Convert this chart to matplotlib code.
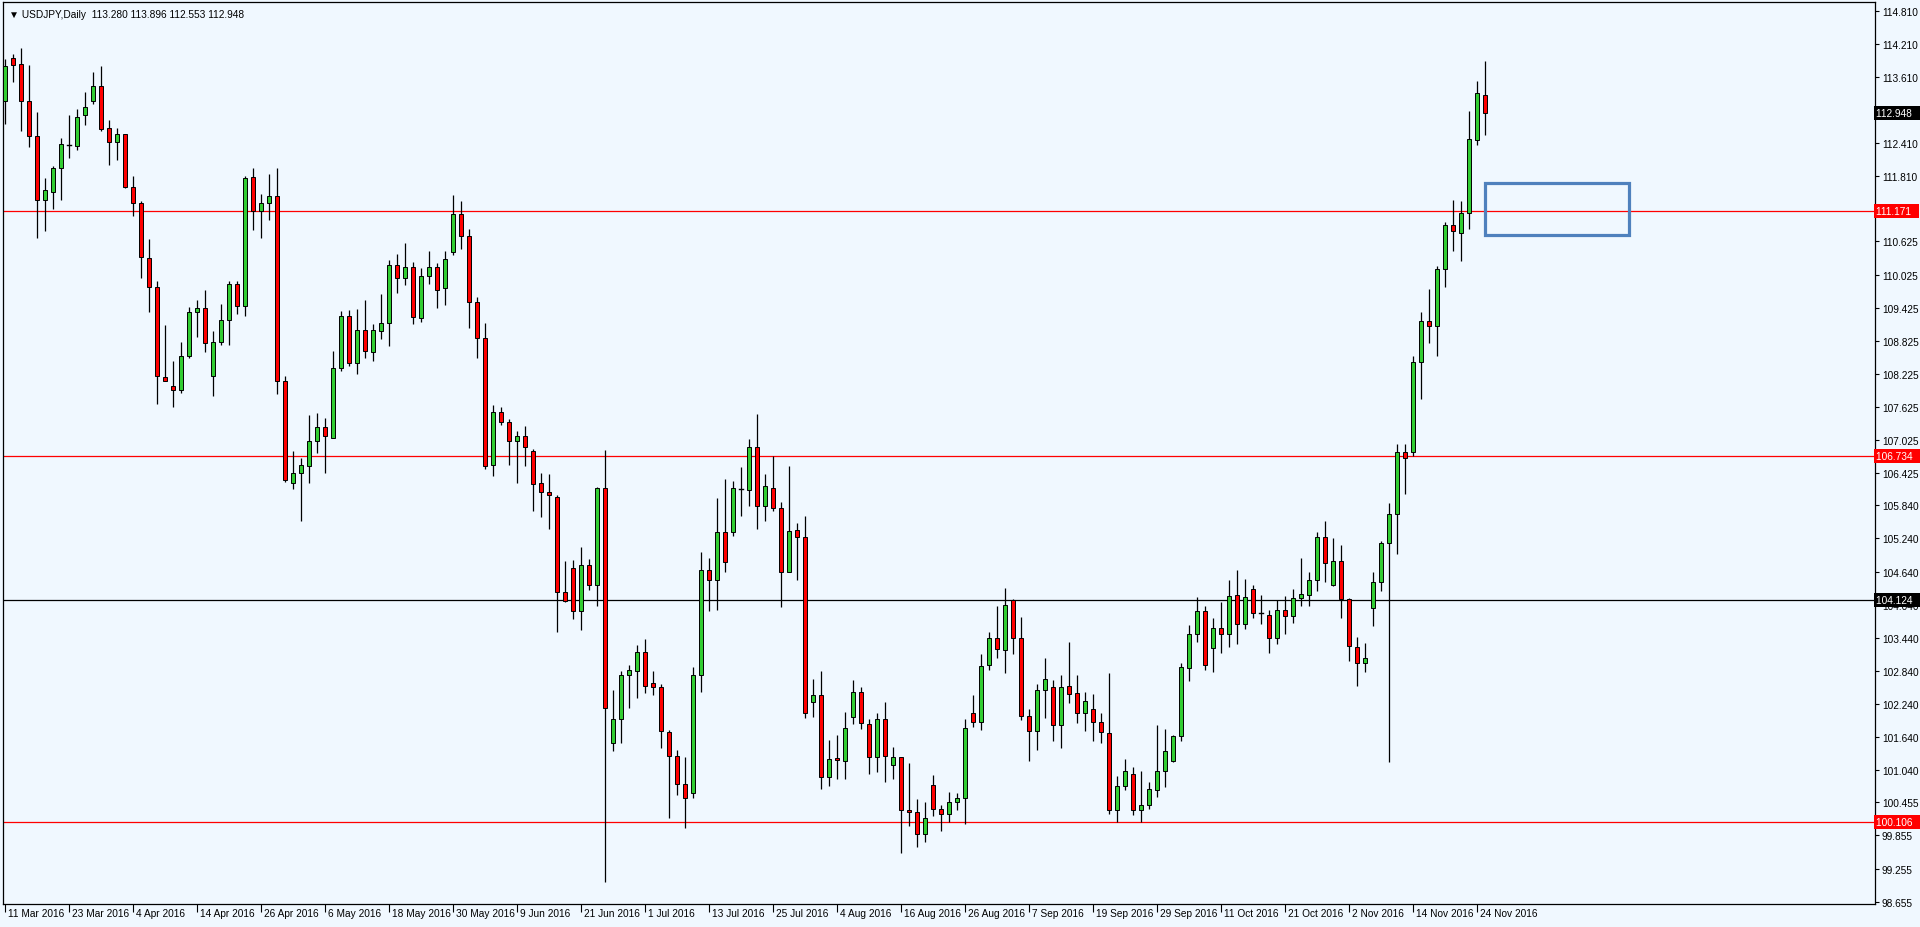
import numpy as np
import matplotlib.pyplot as plt
from matplotlib.patches import Rectangle
import matplotlib.transforms as mtransforms

plt.rcParams['font.family'] = ['Liberation Sans', 'DejaVu Sans']

# USDJPY daily bars, 11 Mar 2016 .. 25 Nov 2016
opens = [113.18, 113.95, 113.84, 113.17, 112.54, 111.38, 111.53, 111.95, 112.37, 112.36,
         112.91, 113.18, 113.44, 112.68, 112.42, 112.57, 111.61, 111.33, 110.33, 109.79,
         108.17, 108.00, 107.94, 108.54, 109.34, 109.41, 108.19, 108.81, 109.20, 109.85,
         109.45, 111.80, 111.18, 111.32, 111.44, 108.09, 106.24, 106.42, 106.56, 107.00,
         107.26, 107.07, 108.33, 109.28, 108.42, 109.02, 108.62, 109.01, 109.15, 110.20,
         109.96, 110.16, 109.23, 109.99, 110.17, 109.78, 110.43, 111.12, 110.72, 109.53,
         108.87, 106.58, 107.54, 107.35, 107.00, 107.09, 106.82, 106.24, 106.09, 106.00,
         104.26, 104.70, 103.93, 104.76, 104.40, 106.15, 101.53, 101.97, 102.76, 102.83,
         103.19, 102.62, 102.54, 101.73, 101.30, 100.78, 100.62, 102.77, 104.67, 104.48,
         105.35, 105.35, 106.13, 106.12, 106.89, 105.82, 106.15, 105.80, 104.63, 105.40,
         105.26, 102.27, 102.40, 100.91, 101.26, 101.20, 102.00, 102.45, 101.88, 101.27,
         101.96, 101.13, 101.27, 100.32, 100.28, 99.88, 100.77, 100.34, 100.25, 100.46,
         100.53, 102.08, 101.92, 102.95, 103.43, 103.22, 104.13, 103.43, 102.02, 101.74,
         102.50, 102.54, 101.86, 102.56, 102.43, 102.08, 102.15, 101.92, 101.71, 100.31,
         100.75, 100.97, 100.32, 100.41, 100.67, 101.02, 101.21, 101.65, 102.89, 103.50,
         103.93, 103.25, 103.61, 103.50, 104.21, 103.68, 104.33, 103.89, 103.85, 103.44,
         103.95, 103.83, 104.16, 104.22, 104.48, 105.27, 104.40, 104.83, 104.14, 103.27,
         102.98, 103.97, 104.45, 105.15, 105.68, 106.81, 106.81, 108.43, 109.18, 109.09,
         110.12, 110.93, 110.78, 111.14, 112.47, 113.280]
highs = [113.93, 114.02, 114.14, 113.82, 112.98, 111.77, 112.00, 112.50, 112.92, 113.03,
         113.33, 113.70, 113.81, 112.82, 112.68, 112.57, 111.82, 111.35, 110.66, 109.91,
         109.11, 108.46, 108.81, 109.43, 109.57, 109.75, 109.00, 109.49, 109.90, 109.90,
         111.82, 111.95, 111.49, 111.85, 111.95, 108.19, 106.83, 106.69, 107.47, 107.51,
         107.42, 108.63, 109.37, 109.38, 109.40, 109.57, 109.12, 109.67, 110.28, 110.40,
         110.60, 110.25, 110.14, 110.46, 110.23, 110.46, 111.47, 111.36, 110.85, 109.61,
         109.15, 107.66, 107.62, 107.41, 107.18, 107.27, 106.86, 106.43, 106.41, 106.02,
         104.83, 104.84, 105.08, 104.86, 106.17, 106.85, 102.50, 102.84, 102.95, 103.31,
         103.41, 102.83, 102.60, 101.77, 101.41, 101.27, 102.90, 105.00, 104.88, 105.97,
         106.32, 106.29, 106.53, 107.04, 107.50, 106.41, 106.74, 105.90, 106.56, 105.52,
         105.64, 102.69, 102.84, 101.59, 101.68, 102.09, 102.68, 102.54, 101.97, 102.07,
         102.28, 101.45, 101.28, 101.17, 100.52, 100.46, 100.95, 100.41, 100.64, 100.63,
         101.96, 102.40, 103.15, 103.55, 104.01, 104.34, 104.15, 103.81, 102.15, 102.60,
         103.07, 102.68, 102.76, 103.37, 102.77, 102.46, 102.42, 102.08, 102.80, 100.94,
         101.25, 101.09, 101.02, 100.83, 101.86, 101.79, 101.68, 102.98, 103.67, 104.17,
         104.02, 103.80, 104.09, 104.49, 104.66, 104.50, 104.39, 104.22, 103.95, 104.12,
         104.20, 104.33, 104.89, 104.64, 105.35, 105.55, 105.25, 105.12, 104.16, 103.45,
         103.35, 104.64, 105.20, 105.89, 106.95, 106.95, 108.55, 109.34, 109.77, 110.18,
         110.97, 111.38, 111.35, 112.99, 113.53, 113.896]
lows = [112.75, 113.51, 112.63, 112.33, 110.68, 110.82, 111.21, 111.38, 112.13, 112.29,
        112.74, 113.12, 112.62, 112.01, 112.11, 111.59, 111.09, 109.96, 109.34, 107.67,
        108.09, 107.63, 107.88, 108.51, 108.90, 108.62, 107.83, 108.74, 108.75, 109.31,
        109.27, 110.84, 110.68, 111.02, 107.86, 106.27, 106.14, 105.55, 106.25, 106.79,
        106.43, 107.06, 108.28, 108.37, 108.22, 108.52, 108.46, 108.86, 108.72, 109.69,
        109.84, 109.12, 109.17, 109.85, 109.42, 109.47, 110.37, 110.49, 109.05, 108.51,
        106.49, 106.37, 107.30, 106.57, 106.25, 106.55, 105.74, 105.62, 105.42, 103.54,
        104.09, 103.78, 103.58, 104.31, 104.01, 99.01, 101.39, 101.54, 102.17, 102.35,
        102.44, 102.40, 101.44, 100.18, 100.59, 99.99, 100.53, 102.45, 103.92, 103.95,
        104.64, 105.28, 105.65, 105.83, 105.41, 105.56, 105.74, 103.99, 104.63, 104.48,
        101.98, 102.01, 100.69, 100.75, 100.88, 100.87, 101.88, 101.79, 100.97, 101.00,
        100.83, 100.87, 99.54, 100.03, 99.64, 99.73, 100.21, 99.94, 100.09, 100.31,
        100.06, 101.83, 101.76, 102.86, 103.07, 102.80, 103.15, 101.94, 101.21, 101.41,
        101.98, 101.56, 101.44, 102.25, 101.89, 101.74, 101.57, 101.53, 100.25, 100.09,
        100.67, 100.23, 100.09, 100.34, 100.56, 100.73, 101.18, 101.57, 102.66, 103.36,
        102.86, 102.81, 103.16, 103.28, 103.33, 103.60, 103.79, 103.69, 103.16, 103.33,
        103.50, 103.70, 104.02, 104.02, 104.29, 104.45, 104.37, 103.80, 103.02, 102.56,
        102.81, 103.66, 104.29, 101.19, 104.95, 106.04, 106.74, 107.77, 108.78, 108.55,
        109.80, 110.45, 110.27, 110.85, 112.38, 112.553]
closes = [113.80, 113.83, 113.17, 112.54, 111.38, 111.55, 111.95, 112.39, 112.38, 112.89,
          113.06, 113.44, 112.66, 112.42, 112.57, 111.61, 111.33, 110.34, 109.79, 108.19,
          108.10, 107.94, 108.54, 109.34, 109.41, 108.78, 108.81, 109.20, 109.85, 109.45,
          111.77, 111.18, 111.32, 111.44, 108.10, 106.30, 106.42, 106.58, 107.00, 107.26,
          107.09, 108.33, 109.28, 108.42, 109.02, 108.63, 109.02, 109.15, 110.20, 109.96,
          110.16, 109.25, 109.99, 110.17, 109.75, 110.31, 111.12, 110.72, 109.53, 108.87,
          106.55, 107.54, 107.35, 107.00, 107.09, 106.90, 106.22, 106.09, 106.02, 104.26,
          104.11, 103.93, 104.76, 104.40, 106.15, 102.17, 101.97, 102.76, 102.86, 103.19,
          102.56, 102.54, 101.74, 101.30, 100.78, 100.53, 102.77, 104.67, 104.48, 105.35,
          104.81, 106.15, 106.14, 106.89, 105.82, 106.19, 105.80, 104.64, 105.38, 105.26,
          102.07, 102.40, 100.91, 101.25, 101.22, 101.80, 102.45, 101.89, 101.27, 101.96,
          101.29, 101.27, 100.32, 100.28, 99.88, 100.17, 100.34, 100.25, 100.46, 100.54,
          101.80, 101.92, 102.93, 103.43, 103.24, 104.03, 103.43, 102.02, 101.74, 102.49,
          102.69, 101.86, 102.54, 102.42, 102.08, 102.29, 101.92, 101.73, 100.31, 100.75,
          101.02, 100.32, 100.41, 100.70, 101.02, 101.38, 101.65, 102.90, 103.50, 103.93,
          102.95, 103.61, 103.50, 104.20, 103.68, 104.17, 103.89, 103.87, 103.44, 103.95,
          103.83, 104.16, 104.23, 104.48, 105.27, 104.79, 104.83, 104.14, 103.29, 102.98,
          103.08, 104.45, 105.15, 105.68, 106.81, 106.69, 108.43, 109.18, 109.09, 110.12,
          110.92, 110.81, 111.14, 112.49, 113.32, 112.948]

date_labels = ['11 Mar 2016', '23 Mar 2016', '4 Apr 2016', '14 Apr 2016', '26 Apr 2016',
               '6 May 2016', '18 May 2016', '30 May 2016', '9 Jun 2016', '21 Jun 2016',
               '1 Jul 2016', '13 Jul 2016', '25 Jul 2016', '4 Aug 2016', '16 Aug 2016',
               '26 Aug 2016', '7 Sep 2016', '19 Sep 2016', '29 Sep 2016', '11 Oct 2016',
               '21 Oct 2016', '2 Nov 2016', '14 Nov 2016', '24 Nov 2016']
label_step = 8

price_ticks = [114.810, 114.210, 113.610, 113.010, 112.410, 111.810, 110.625,
               110.025, 109.425, 108.825, 108.225, 107.625, 107.025, 106.425, 105.840,
               105.240, 104.640, 104.040, 103.440, 102.840, 102.240, 101.640, 101.040,
               100.455, 99.855, 99.255, 98.655]

red_levels = [111.171, 106.734, 100.106]
black_level = 104.124
zone_top, zone_bottom = 111.684, 110.741
zone_start, zone_end = 185, 203

bg = '#F0F8FF'
up_col = '#32CD32'
dn_col = '#FF0000'
fs = 7.3

fig = plt.figure(figsize=(19.2, 9.28), dpi=100)
fig.patch.set_facecolor(bg)
ax = fig.add_axes([3/1920, 23/928, 1872/1920, 902/928])
ax.set_facecolor(bg)
ax.set_xlim(-0.25, 233.75)
ax.set_ylim(98.612, 114.966)

# levels
for lv in red_levels:
    ax.axhline(lv, color='#FF0000', lw=0.9, zorder=1)
ax.axhline(black_level, color='black', lw=0.9, zorder=1)

# candles
for i in range(len(opens)):
    o, h, l, c = opens[i], highs[i], lows[i], closes[i]
    ax.plot([i, i], [l, h], color='black', lw=0.9, zorder=2, solid_capstyle='butt')
    lo, hi = min(o, c), max(o, c)
    col = up_col if c >= o else dn_col
    if hi - lo < 0.02:
        ax.plot([i - 0.3, i + 0.3], [o, o], color='black', lw=1.0, zorder=3)
    else:
        ax.add_patch(Rectangle((i - 0.3, lo), 0.6, hi - lo, facecolor=col,
                               edgecolor='black', lw=0.7, zorder=3))

# zone box
ax.add_patch(Rectangle((zone_start, zone_bottom), zone_end - zone_start,
                       zone_top - zone_bottom, fill=False, edgecolor='#4F81BD',
                       lw=2.3, zorder=4))

# right price scale
ax.yaxis.tick_right()
ax.set_yticks(price_ticks)
ax.set_yticklabels([f'{p:.3f}' for p in price_ticks])
ax.tick_params(axis='y', direction='out', length=3, width=0.8, pad=2,
               labelsize=fs, colors='black')

# bottom date scale
ax.set_xticks(np.arange(len(date_labels)) * label_step)
ax.set_xticklabels([])
ax.tick_params(axis='x', direction='out', length=6, width=0.8)
for k, lab in enumerate(date_labels):
    ax.annotate(lab, xy=(k * label_step, 0), xycoords=('data', 'axes fraction'),
                xytext=(2, -3), textcoords='offset points', ha='left', va='top',
                fontsize=fs, color='black')

for s in ax.spines.values():
    s.set_color('black')
    s.set_linewidth(0.9)

# level tags on price scale (trailing space widens the tag over the scale text)
trans = mtransforms.blended_transform_factory(ax.transAxes, ax.transData)
for lv in red_levels:
    ax.text(1.0008, lv, f'{lv:.3f}  ', transform=trans, ha='left', va='center',
            fontsize=fs, color='white', zorder=10, clip_on=False,
            bbox=dict(boxstyle='square,pad=0.2', fc='#FF0000', ec='none'))
for lv in [black_level, closes[-1]]:
    ax.text(1.0008, lv, f'{lv:.3f}  ', transform=trans, ha='left', va='center',
            fontsize=fs, color='white', zorder=10, clip_on=False,
            bbox=dict(boxstyle='square,pad=0.2', fc='black', ec='none'))

# header
ax.text(0.003, 0.992,
        f'\u25bc USDJPY,Daily  {opens[-1]:.3f} {highs[-1]:.3f} {lows[-1]:.3f} {closes[-1]:.3f}',
        transform=ax.transAxes, ha='left', va='top', fontsize=fs, color='black')

fig.savefig('out.png', dpi=100, facecolor=bg)
